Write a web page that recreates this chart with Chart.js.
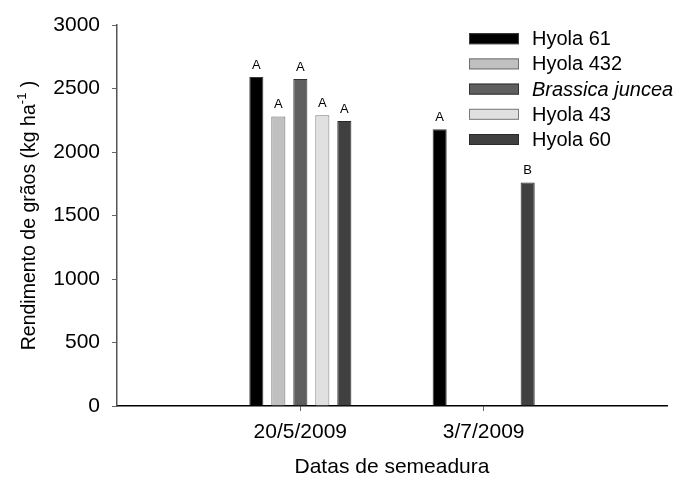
<!DOCTYPE html>
<html>
<head>
<meta charset="utf-8">
<script src="https://cdn.jsdelivr.net/npm/chart.js@4"></script>
<style>
  body { margin: 0; background: #fff; }
  #wrap { width: 685px; height: 477px; }
</style>
</head>
<body>
<div id="wrap"><canvas id="myChart" width="685" height="477"></canvas></div>
<script>
// categories (empty ones pad the axis on both sides)
const dates = ['', '20/5/2009', '3/7/2009', ''];

// cultivars
const cultivars = ['Hyola 61', 'Hyola 432', 'Brassica juncea', 'Hyola 43', 'Hyola 60'];

// grain yield, kg/ha
const hyola61 = [null, 2590, 2180, null];
const hyola432 = [null, 2280, null, null];
const brassicaJuncea = [null, 2575, null, null];
const hyola43 = [null, 2290, null, null];
const hyola60 = [null, 2245, 1760, null];

// significance letters
const letters61 = ['', 'A', 'A', ''];
const letters432 = ['', 'A', '', ''];
const lettersJuncea = ['', 'A', '', ''];
const letters43 = ['', 'A', '', ''];
const letters60 = ['', 'A', 'B', ''];

const yTicks = [0, 500, 1000, 1500, 2000, 2500, 3000];

const FONT = '"Liberation Sans", Arial, sans-serif';
const fills = ['#000000', '#c0c0c0', '#5f5f5f', '#e0e0e0', '#404040'];
const borders = ['#3a3a3a', '#6e6e6e', '#333333', '#7a7a7a', '#2a2a2a'];
const allLetters = [letters61, letters432, lettersJuncea, letters43, letters60];
const allValues = [hyola61, hyola432, brassicaJuncea, hyola43, hyola60];

//letters above the bars
const letterPlugin = {
    id: 'letters',
    afterDatasetsDraw(chart) {
        const ctx = chart.ctx;
        ctx.save();
        ctx.font = '13px ' + FONT;
        ctx.fillStyle = '#000';
        ctx.textAlign = 'center';
        ctx.textBaseline = 'alphabetic';
        chart.data.datasets.forEach((ds, i) => {
            const meta = chart.getDatasetMeta(i);
            meta.data.forEach((bar, j) => {
                const txt = allLetters[i][j];
                if (!txt || ds.data[j] == null) return;
                ctx.fillText(txt, bar.x, bar.y - 8);
            });
        });
        ctx.restore();
    }
};

//legend in the top right corner
const legendPlugin = {
    id: 'cornerLegend',
    afterDraw(chart) {
        const ctx = chart.ctx;
        ctx.save();
        chart.data.datasets.forEach((ds, i) => {
            const yc = 38.7 + i * 25.2;
            ctx.fillStyle = ds.backgroundColor;
            ctx.fillRect(469, yc - 5.5, 50, 11);
            ctx.strokeStyle = ds.borderColor;
            ctx.lineWidth = 1;
            ctx.strokeRect(469.5, yc - 5, 49, 10);
            ctx.fillStyle = '#000';
            ctx.font = (i === 2 ? 'italic ' : '') + '20px ' + FONT;
            ctx.textAlign = 'left';
            ctx.textBaseline = 'middle';
            ctx.fillText(ds.label, 532, yc + 1);
        });
        ctx.restore();
    }
};

//y axis title with a real superscript
const yTitlePlugin = {
    id: 'yTitle',
    afterDraw(chart) {
        const ctx = chart.ctx;
        const area = chart.chartArea;
        const main = 'Rendimento de grãos (kg ha';
        const sup = '-1';
        const end = ' )';
        ctx.save();
        ctx.translate(30, (area.top + area.bottom) / 2);
        ctx.rotate(-Math.PI / 2);
        ctx.fillStyle = '#000';
        ctx.textBaseline = 'middle';
        ctx.textAlign = 'left';
        ctx.font = '19.5px ' + FONT;
        const w1 = ctx.measureText(main).width;
        const w3 = ctx.measureText(end).width;
        ctx.font = '13px ' + FONT;
        const w2 = ctx.measureText(sup).width;
        let x = -(w1 + w2 + w3) / 2;
        ctx.font = '19.5px ' + FONT;
        ctx.fillText(main, x, 0);
        x += w1;
        ctx.font = '13px ' + FONT;
        ctx.fillText(sup, x, -8);
        x += w2;
        ctx.font = '19.5px ' + FONT;
        ctx.fillText(end, x, 0);
        ctx.restore();
    }
};

const ctx = document.getElementById('myChart').getContext('2d');
const myChart = new Chart(ctx, {
    type: 'bar',
    data: {
        labels: dates,
        datasets: cultivars.map((name, i) => ({
            label: name,
            data: allValues[i],
            backgroundColor: fills[i],
            borderColor: borders[i],
            borderWidth: 1,
            categoryPercentage: 0.6,
            barPercentage: 0.64
        }))
    },
    options: {
        responsive: false,
        animation: false,
        devicePixelRatio: 1,
        layout: {
            padding: {top: 25, right: 18, left: 0, bottom: 0}
        },
        plugins: {
            legend: {display: false},
            tooltip: {enabled: false}
        },
        scales: {
            x: {
                offset: false,
                afterFit: (scale) => { scale.height = 71; },
                border: {color: '#000', width: 1.5},
                grid: {
                    offset: false,
                    drawOnChartArea: false,
                    drawTicks: true,
                    tickLength: 5,
                    color: (c) => (c.index === 1 || c.index === 2) ? '#666' : 'rgba(0,0,0,0)'
                },
                ticks: {
                    color: '#000',
                    font: {family: FONT, size: 21},
                    padding: 9,
                    autoSkip: false,
                    maxRotation: 0
                },
                title: {
                    display: true,
                    text: 'Datas de semeadura',
                    color: '#000',
                    font: {family: FONT, size: 21},
                    padding: {top: 0, bottom: -3}
                }
            },
            y: {
                min: 0,
                max: 3000,
                afterFit: (scale) => { scale.width = 117; },
                afterBuildTicks: (scale) => { scale.ticks = yTicks.map(v => ({value: v})); },
                border: {color: '#555', width: 1.5},
                grid: {
                    drawOnChartArea: false,
                    drawTicks: true,
                    tickLength: 5,
                    color: '#666'
                },
                ticks: {
                    color: '#000',
                    font: {family: FONT, size: 21},
                    padding: 12,
                    callback: (v) => String(v)
                }
            }
        }
    },
    plugins: [letterPlugin, legendPlugin, yTitlePlugin]
});
</script>
</body>
</html>
